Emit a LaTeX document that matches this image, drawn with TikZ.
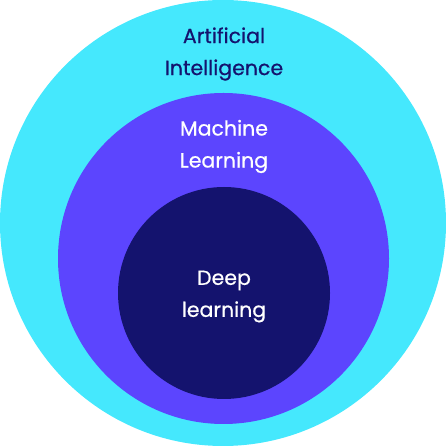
\documentclass[tikz,border=0pt]{standalone}
\usepackage{fontspec}
\setmainfont{Poppins}[FakeBold=0.6]
\definecolor{aicyan}{HTML}{45E8FD}
\definecolor{mlpurple}{HTML}{5C45FE}
\definecolor{dlnavy}{HTML}{14136E}
\begin{document}
\begin{tikzpicture}[x=1bp, y=1bp,
  every node/.style={font=\fontsize{20.5bp}{32bp}\selectfont, align=center, inner sep=0pt}]
  \useasboundingbox (0,0) rectangle (446,446);
  % nested circles
  \fill[aicyan] (223,223) circle (223);
  \fill[mlpurple] (223.5,187.5) circle (165.5);
  \fill[dlnavy] (224,153) circle (106);

  % labels
  \node[text=dlnavy] (ai) at (224,392) {Artificial\\Intelligence};
  \node[text=white] (ml) at (224,299.5) {Machine\\Learning};
  \node[text=white] (dl) at (224,149.5) {Deep\\learning};
\end{tikzpicture}
\end{document}
